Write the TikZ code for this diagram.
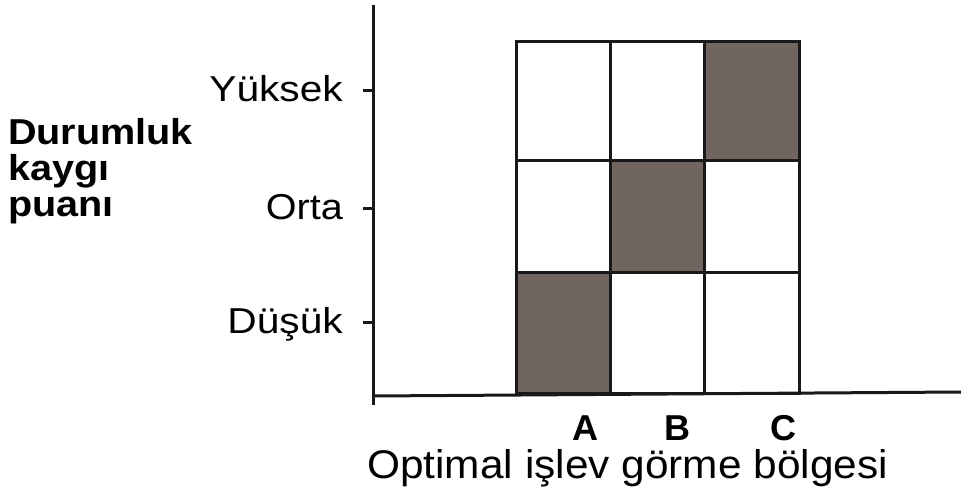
\documentclass[tikz,border=0pt]{standalone}
\usepackage{fontspec}
\setmainfont{Liberation Sans}
\definecolor{cellgray}{RGB}{112,101,95}
\newcommand{\wide}[2]{\scalebox{#1}[1]{#2}}
\begin{document}
\begin{tikzpicture}[x=1pt,y=-1pt,
  lbl/.style={inner sep=0pt,font=\fontsize{36}{40}\selectfont},
  ylab/.style={lbl,anchor=base west,font=\fontsize{36}{40}\selectfont\bfseries},
  grid/.style={draw=black!90,line width=3pt},
  axis/.style={draw=black!90,line width=3pt},
  tick/.style={draw=black!90,line width=3pt}]
\useasboundingbox (0,0) rectangle (961,495);
% cells
\fill[cellgray] (516,272) rectangle (610,393);
\fill[cellgray] (610,160) rectangle (704,272);
\fill[cellgray] (704,42) rectangle (799,160);
\draw[grid] (516,42) rectangle (799,393);
\draw[grid] (610,42) -- (610,393);
\draw[grid] (704,42) -- (704,393);
\draw[grid] (516,160) -- (799,160);
\draw[grid] (516,272) -- (799,272);
% axes
\coordinate (ytop) at (373,5);
\coordinate (ybot) at (373,405);
\coordinate (xl) at (373,396);
\coordinate (xr) at (961,392);
\draw[axis] (ytop) -- (ybot);
\draw[axis] (xl) -- (xr);
% ticks
\coordinate (t1) at (373,90);
\coordinate (t2) at (373,208);
\coordinate (t3) at (373,322);
\draw[tick] (t1) -- ++(-10,0);
\draw[tick] (t2) -- ++(-10,0);
\draw[tick] (t3) -- ++(-10,0);
% level labels
\node[lbl,anchor=base east] (yuk) at (343,101) {\wide{1.13}{Yüksek}};
\node[lbl,anchor=base east] (ort) at (343,219) {\wide{1.1}{Orta}};
\node[lbl,anchor=base east] (dus) at (343,333) {\wide{1.13}{Düşük}};
% y axis title
\node[ylab] (d1) at (8,144) {\wide{1.1}{Durumluk}};
\node[ylab] (d2) at (8,180) {\wide{1.1}{kaygı}};
\node[ylab] (d3) at (8,216) {\wide{1.1}{puanı}};
% column labels
\node[lbl,anchor=base,font=\fontsize{36}{40}\selectfont\bfseries] (ca) at (585,440) {A};
\node[lbl,anchor=base,font=\fontsize{36}{40}\selectfont\bfseries] (cb) at (677,440) {B};
\node[lbl,anchor=base,font=\fontsize{36}{40}\selectfont\bfseries] (cc) at (783,440) {C};
\node[lbl,anchor=base west,font=\fontsize{40}{44}\selectfont] (xt) at (367,478) {\wide{1.06}{Optimal işlev görme bölgesi}};
\end{tikzpicture}
\end{document}
